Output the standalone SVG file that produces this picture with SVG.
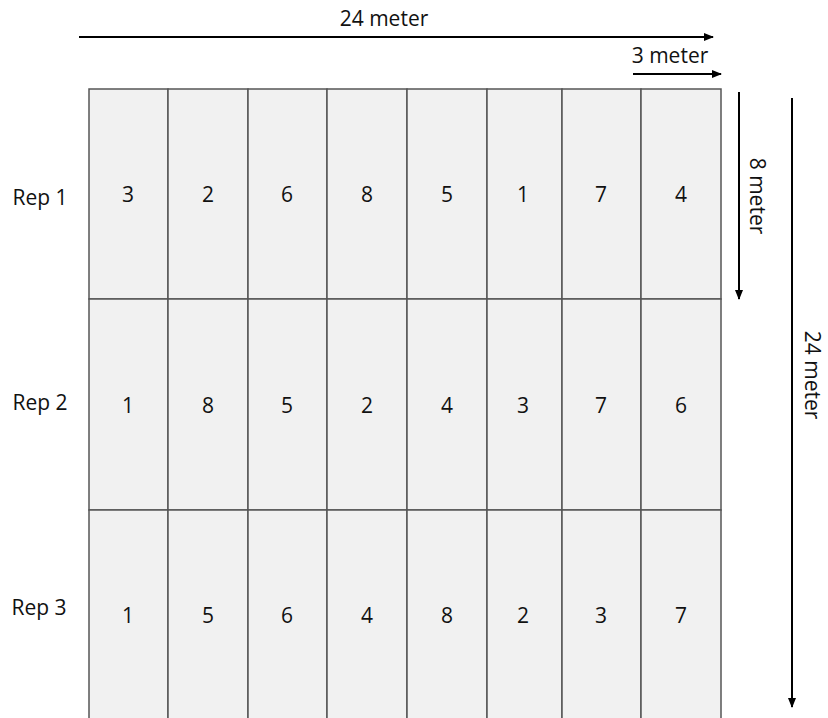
<svg xmlns="http://www.w3.org/2000/svg" width="828" height="718" viewBox="0 0 828 718">
<style>
.cell{fill:#f1f1f1;stroke:#555;stroke-width:1.5}
.t{font-family:"Open Sans","Liberation Sans",sans-serif;font-size:21px;fill:#111;text-anchor:middle}
.a{stroke:#000;stroke-width:2;fill:none;marker-end:url(#ah)}
</style>
<defs>
<marker id="ah" viewBox="0 0 10 10" refX="9" refY="5" markerWidth="5" markerHeight="5" orient="auto" markerUnits="strokeWidth">
<path d="M0,1 L10,5 L0,9 z" fill="#000"/>
</marker>
</defs>
<rect width="828" height="718" fill="#fff"/>
<g id="grid">
<g id="row1">
<rect class="cell" x="89" y="89" width="79" height="210"/>
<rect class="cell" x="168" y="89" width="80" height="210"/>
<rect class="cell" x="248" y="89" width="79" height="210"/>
<rect class="cell" x="327" y="89" width="80" height="210"/>
<rect class="cell" x="407" y="89" width="80" height="210"/>
<rect class="cell" x="487" y="89" width="75" height="210"/>
<rect class="cell" x="562" y="89" width="79" height="210"/>
<rect class="cell" x="641" y="89" width="80" height="210"/>
<text class="t" x="128" y="202">3</text>
<text class="t" x="208" y="202">2</text>
<text class="t" x="287" y="202">6</text>
<text class="t" x="367" y="202">8</text>
<text class="t" x="447" y="202">5</text>
<text class="t" x="523" y="202">1</text>
<text class="t" x="601" y="202">7</text>
<text class="t" x="681" y="202">4</text>
</g>
<g id="row2">
<rect class="cell" x="89" y="299" width="79" height="211"/>
<rect class="cell" x="168" y="299" width="80" height="211"/>
<rect class="cell" x="248" y="299" width="79" height="211"/>
<rect class="cell" x="327" y="299" width="80" height="211"/>
<rect class="cell" x="407" y="299" width="80" height="211"/>
<rect class="cell" x="487" y="299" width="75" height="211"/>
<rect class="cell" x="562" y="299" width="79" height="211"/>
<rect class="cell" x="641" y="299" width="80" height="211"/>
<text class="t" x="128" y="413">1</text>
<text class="t" x="208" y="413">8</text>
<text class="t" x="287" y="413">5</text>
<text class="t" x="367" y="413">2</text>
<text class="t" x="447" y="413">4</text>
<text class="t" x="523" y="413">3</text>
<text class="t" x="601" y="413">7</text>
<text class="t" x="681" y="413">6</text>
</g>
<g id="row3">
<rect class="cell" x="89" y="510" width="79" height="212"/>
<rect class="cell" x="168" y="510" width="80" height="212"/>
<rect class="cell" x="248" y="510" width="79" height="212"/>
<rect class="cell" x="327" y="510" width="80" height="212"/>
<rect class="cell" x="407" y="510" width="80" height="212"/>
<rect class="cell" x="487" y="510" width="75" height="212"/>
<rect class="cell" x="562" y="510" width="79" height="212"/>
<rect class="cell" x="641" y="510" width="80" height="212"/>
<text class="t" x="128" y="623">1</text>
<text class="t" x="208" y="623">5</text>
<text class="t" x="287" y="623">6</text>
<text class="t" x="367" y="623">4</text>
<text class="t" x="447" y="623">8</text>
<text class="t" x="523" y="623">2</text>
<text class="t" x="601" y="623">3</text>
<text class="t" x="681" y="623">7</text>
</g>
</g>
<g id="labels">
<text class="t" x="40" y="205">Rep 1</text>
<text class="t" x="40" y="410">Rep 2</text>
<text class="t" x="39" y="615">Rep 3</text>
</g>
<g id="connectors">
<line class="a" x1="79" y1="37" x2="713" y2="37"/>
<line class="a" x1="633" y1="74" x2="721" y2="74"/>
<line class="a" x1="739" y1="92" x2="739" y2="299"/>
<line class="a" x1="792" y1="98" x2="792" y2="707"/>
</g>
<g id="dims">
<text class="t" x="384" y="26">24 meter</text>
<text class="t" x="670" y="63">3 meter</text>
<text class="t" transform="translate(750,196) rotate(90)">8 meter</text>
<text class="t" transform="translate(805,375) rotate(90)">24 meter</text>
</g>
</svg>
